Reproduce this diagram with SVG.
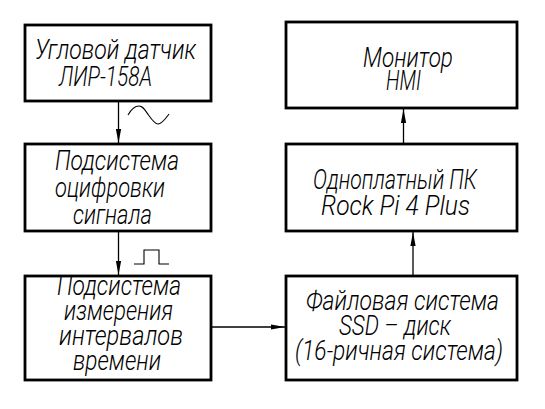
<svg xmlns="http://www.w3.org/2000/svg" width="545" height="409" viewBox="0 0 545 409">
<style>
.box{fill:none;stroke:#000;stroke-width:2.8}
.t{font-family:Roboto,"Liberation Sans","DejaVu Sans",sans-serif;font-style:italic;font-weight:300;font-size:27px;fill:#000}
.c{fill:none;stroke:#000;stroke-width:1.3}
.sig{fill:none;stroke:#000;stroke-width:1.1}
</style>
<defs>
<marker id="ah" markerUnits="userSpaceOnUse" markerWidth="16" markerHeight="8" viewBox="-15 -4 16 8" refX="0" refY="0" orient="auto">
<path d="M0,0 L-14,-2.6 L-14,2.6 Z" fill="#000"/>
</marker>
</defs>
<rect width="545" height="409" fill="#fff"/>
<g id="connectors">
<line class="c" x1="118.5" y1="101" x2="118.5" y2="143" marker-end="url(#ah)"/>
<line class="c" x1="118.5" y1="231" x2="118.5" y2="275" marker-end="url(#ah)"/>
<line class="c" x1="211" y1="327" x2="285" y2="327" marker-end="url(#ah)"/>
<line class="c" x1="413" y1="276" x2="413" y2="232" marker-end="url(#ah)"/>
<line class="c" x1="403.5" y1="144" x2="403.5" y2="109" marker-end="url(#ah)"/>
<path class="sig" d="M128,115 C132,108 136,106 139,106 C143,106 145,110 148.5,115 C152,120 155,124 158,124 C162,124 166,118 169,114"/>
<path class="sig" d="M134,264 H144 V250 H159 V264 H169"/>
</g>
<g id="sensor">
<rect class="box" x="25" y="25" width="186" height="76"/>
<text class="t" x="35" y="59" textLength="161" lengthAdjust="spacingAndGlyphs">Угловой датчик</text>
<text class="t" x="59" y="86" textLength="93" lengthAdjust="spacingAndGlyphs">ЛИР-158А</text>
</g>
<g id="digitize">
<rect class="box" x="25" y="144" width="186" height="87"/>
<text class="t" x="55" y="170" textLength="124" lengthAdjust="spacingAndGlyphs">Подсистема</text>
<text class="t" x="55" y="197" textLength="110" lengthAdjust="spacingAndGlyphs">оцифровки</text>
<text class="t" x="73" y="224" textLength="79" lengthAdjust="spacingAndGlyphs">сигнала</text>
</g>
<g id="measure">
<rect class="box" x="25" y="276" width="186" height="104"/>
<text class="t" x="57" y="295" textLength="124" lengthAdjust="spacingAndGlyphs">Подсистема</text>
<text class="t" x="64" y="320" textLength="109" lengthAdjust="spacingAndGlyphs">измерения</text>
<text class="t" x="59" y="345" textLength="124" lengthAdjust="spacingAndGlyphs">интервалов</text>
<text class="t" x="73" y="370" textLength="88" lengthAdjust="spacingAndGlyphs">времени</text>
</g>
<g id="monitor">
<rect class="box" x="286" y="22" width="231" height="86"/>
<text class="t" x="363" y="67" textLength="90" lengthAdjust="spacingAndGlyphs">Монитор</text>
<text class="t" x="386" y="90" textLength="35" lengthAdjust="spacingAndGlyphs">HMI</text>
</g>
<g id="pc">
<rect class="box" x="286" y="144" width="231" height="87"/>
<text class="t" x="313" y="189" textLength="164" lengthAdjust="spacingAndGlyphs">Одноплатный ПК</text>
<text class="t" x="321" y="215" textLength="149" lengthAdjust="spacingAndGlyphs">Rock Pi 4 Plus</text>
</g>
<g id="ssd">
<rect class="box" x="286" y="276" width="231" height="104"/>
<text class="t" x="306" y="310" textLength="193" lengthAdjust="spacingAndGlyphs">Файловая система</text>
<text class="t" x="339" y="335" textLength="112" lengthAdjust="spacingAndGlyphs">SSD – диск</text>
<text class="t" x="295" y="360" textLength="208" lengthAdjust="spacingAndGlyphs">(16-ричная система)</text>
</g>
</svg>
